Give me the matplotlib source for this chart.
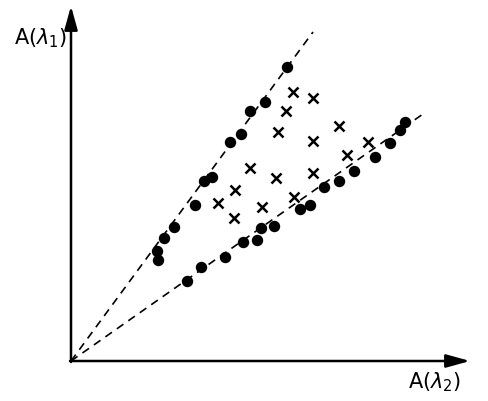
import matplotlib
matplotlib.use('Agg')
import matplotlib.pyplot as plt

# dots lying along the two lines
upper_x = [8.7, 8.6, 9.3, 10.3, 12.4, 13.3, 14.1, 15.9, 17.0, 17.9, 19.4, 21.6]
upper_y = [10.1, 11.0, 12.3, 13.4, 15.6, 18.0, 18.4, 21.9, 22.7, 25.0, 25.9, 29.4]

lower_x = [11.6, 13.0, 15.4, 17.2, 18.6, 19.0, 20.3, 22.9, 23.9, 25.3, 26.8, 28.3,
           30.4, 31.9, 32.9, 33.4]
lower_y = [8.0, 9.4, 10.4, 11.9, 12.1, 13.3, 13.5, 15.2, 15.6, 17.4, 18.0, 19.0,
           20.4, 21.8, 23.1, 23.9]

# crosses between the lines
cross_x = [14.7, 16.4, 16.3, 17.9, 19.1, 20.5, 20.7, 21.5, 22.2, 24.2, 22.3, 24.2,
           24.2, 26.8, 27.6, 29.7]
cross_y = [15.8, 17.1, 14.3, 19.3, 15.4, 18.3, 22.9, 25.0, 26.9, 26.3, 16.4, 18.8,
           22.0, 23.5, 20.6, 21.9]

# dashed guide lines through the origin
line_upper_end = (24.2, 32.9)
line_lower_end = (35.2, 24.7)

fig = plt.figure(figsize=(4.88, 4.02), dpi=100)
ax = fig.add_axes([0, 0, 1, 1])
ax.set_xlim(-7.1, 41.7)
ax.set_ylim(-4.0, 36.2)
ax.axis('off')

for end in (line_upper_end, line_lower_end):
    ax.plot([0, end[0]], [0, end[1]], color='black', lw=1.2, dashes=(4.8, 3.6))

ax.plot(upper_x, upper_y, 'o', color='black', markersize=7.2)
ax.plot(lower_x, lower_y, 'o', color='black', markersize=7.2)
ax.plot(cross_x, cross_y, 'x', color='black', markersize=7, mew=1.8)

# axes with arrow heads
arrow = dict(arrowstyle='-|>,head_length=0.9,head_width=0.25', lw=1.8, color='black',
             mutation_scale=16, shrinkA=0, shrinkB=0)
ax.annotate('', xy=(39.9, 0), xytext=(-0.1, 0), arrowprops=arrow)
ax.annotate('', xy=(0, 35.5), xytext=(0, -0.1), arrowprops=arrow)

ax.text(-0.4, 32.4, r'A($\lambda_1$)', ha='right', va='center', fontsize=15)
ax.text(36.4, -2.0, r'A($\lambda_2$)', ha='center', va='center', fontsize=15)

fig.savefig('out.png', dpi=100)
